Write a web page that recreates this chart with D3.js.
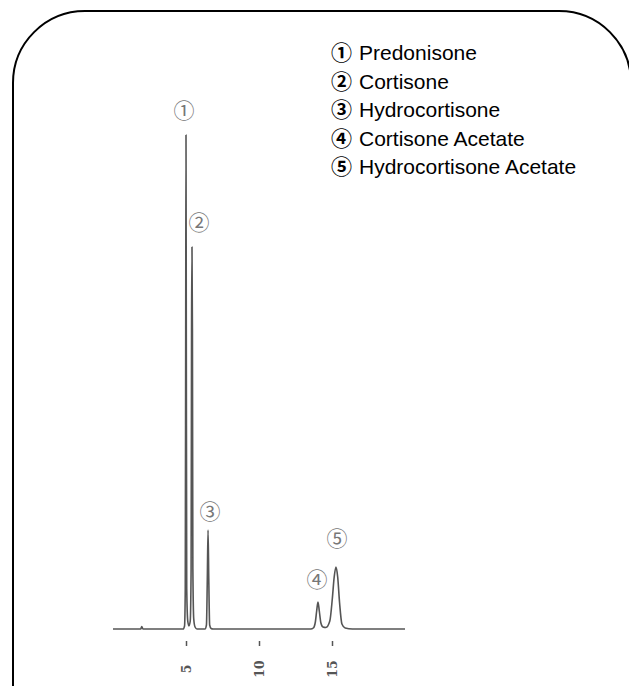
<!DOCTYPE html>
<html>
<head>
<meta charset="utf-8">
<script src="https://cdn.jsdelivr.net/npm/d3@7"></script>
<style>
  html, body { margin: 0; padding: 0; background: #fff; }
  svg { display: block; }
</style>
</head>
<body>
<svg id="chart" width="629" height="686"></svg>
<script>
// ---- data ----
const legendMarks = ["①", "②", "③", "④", "⑤"];
const compounds = ["Predonisone", "Cortisone", "Hydrocortisone", "Cortisone Acetate", "Hydrocortisone Acetate"];
const peakTimes = [5.0, 5.41, 6.51, 14.04, 15.27];     // retention time (min)
const peakHeights = [494, 382, 99, 27, 62];             // detector response (arb.)
const tickValues = [5, 10, 15];
const tickLabels = ["5", "10", "15"];
// chromatogram trace: time (min)
const traceTime = [0, 1.9, 1.97, 2.05, 4.8, 4.9, 4.95, 4.98, 5.0, 5.02, 5.05, 5.12, 5.2,
  5.29, 5.35, 5.38, 5.41, 5.44, 5.47, 5.53, 5.62, 5.75, 6.3, 6.4, 6.46, 6.51, 6.56, 6.62, 6.72, 6.85,
  13.55, 13.72, 13.86, 13.95, 14.04, 14.13, 14.24, 14.38, 14.58, 14.85, 15.02, 15.15, 15.27, 15.39, 15.52,
  15.68, 15.9, 16.4, 20.0];
// response
const traceValue = [0, 0, 2.5, 0, 0, 3, 40, 300, 494, 300, 40, 8, 3,
  8, 60, 300, 382, 300, 60, 10, 2, 0, 0, 4, 50, 99, 50, 4, 0.5, 0,
  0, 1, 7, 18, 27, 18, 6, 2, 1.5, 8, 30, 52, 62, 52, 26,
  5, 1, 0, 0];

// ---- layout ----
const svg = d3.select("#chart");
const x = d3.scaleLinear().domain([0, 20]).range([113, 405]);
const y = d3.scaleLinear().domain([0, 500]).range([629, 129]);

// rounded frame (bottom and right run off the picture)
svg.append("rect")
  .attr("x", 13).attr("y", 11)
  .attr("width", 618).attr("height", 760)
  .attr("rx", 72).attr("ry", 72)
  .attr("fill", "#fff")
  .attr("stroke", "#000").attr("stroke-width", 2);

// trace
const pts = traceTime.map((t, i) => [t, traceValue[i]]);
svg.append("path")
  .datum(pts)
  .attr("fill", "none")
  .attr("stroke", "#555")
  .attr("stroke-width", 1.6)
  .attr("stroke-linejoin", "round")
  .attr("d", d3.line().x(d => x(d[0])).y(d => y(d[1])).curve(d3.curveMonotoneX));

// axis (ticks only, rotated labels)
const axis = d3.axisBottom(x)
  .tickValues(tickValues)
  .tickFormat((d, i) => tickLabels[i])
  .tickSize(5)
  .tickPadding(0);
const ag = svg.append("g").attr("transform", "translate(0,641)").call(axis);
ag.select(".domain").remove();
ag.selectAll(".tick line").attr("stroke", "#555").attr("stroke-width", 1.5);
ag.selectAll(".tick text")
  .attr("fill", "#555")
  .attr("font-family", "'DejaVu Serif', serif")
  .attr("font-size", 12.5)
  .attr("font-weight", "bold")
  .attr("text-anchor", "middle")
  .attr("transform", "translate(0,28) rotate(-90)")
  .attr("y", 0).attr("dy", "0.35em");

// peak labels
const labelOffsets = [[-2, 24], [7, 24], [2, 18], [-1, 22], [1, 28]];
svg.append("g").selectAll("text")
  .data(legendMarks)
  .join("text")
  .attr("x", (d, i) => x(peakTimes[i]) + labelOffsets[i][0])
  .attr("y", (d, i) => y(peakHeights[i]) - labelOffsets[i][1])
  .attr("dy", "0.35em")
  .attr("text-anchor", "middle")
  .attr("font-family", "'Noto Sans CJK JP', 'DejaVu Sans', sans-serif")
  .attr("font-size", 21)
  .attr("fill", "#777")
  .text(d => d);

// legend
const lg = svg.append("g");
legendMarks.forEach((m, i) => {
  const t = lg.append("text")
    .attr("x", 331).attr("y", 60 + i * 28.5)
    .attr("font-family", "'Liberation Sans', Arial, sans-serif")
    .attr("font-size", 21)
    .attr("fill", "#000");
  t.append("tspan").attr("font-family", "'Noto Sans CJK JP', sans-serif").attr("font-weight", "bold").text(m);
  t.append("tspan").attr("x", 359).text(compounds[i]);
});
</script>
</body>
</html>
